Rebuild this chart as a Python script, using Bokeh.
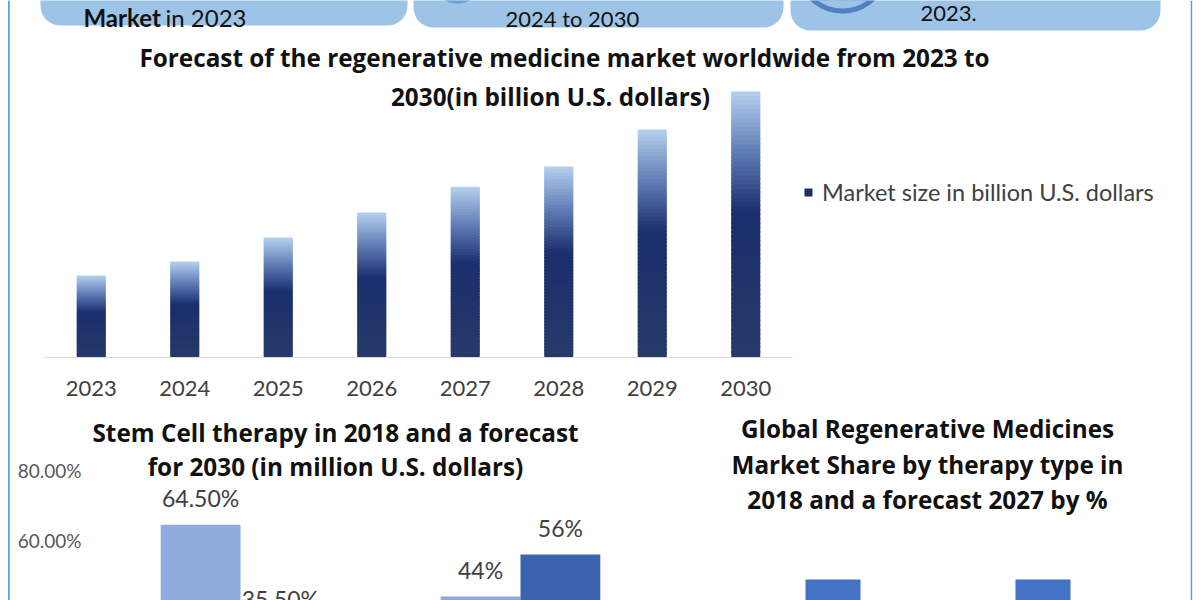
import math
from bokeh.plotting import figure
from bokeh.models import (ColumnDataSource, Range1d, FactorRange, Label, BoxAnnotation,
                          LabelSet, Legend, LegendItem, FixedTicker, PrintfTickFormatter,
                          PolyAnnotation)
from bokeh.layouts import column, row
from bokeh.transform import dodge
from bokeh.core.properties import value
from bokeh.embed import file_html
from bokeh.resources import INLINE

# ---------------- data ----------------
YEARS = ["2023", "2024", "2025", "2026", "2027", "2028", "2029", "2030"]
MARKET_SIZE = [29.0, 34.0, 42.5, 51.3, 60.5, 67.6, 80.7, 94.2]
SERIES_LABEL = "Market size in billion U.S. dollars"
TOP_TITLE = ["Forecast of the regenerative medicine market worldwide from 2023 to",
             "2030(in billion U.S. dollars)"]

STEM_GROUPS = ["2018", "2030"]
STEM_SERIES_1 = [64.5, 44.0]
STEM_SERIES_2 = [35.5, 56.0]
STEM_LABELS_1 = ["64.50%", "44%"]
STEM_LABELS_2 = ["35.50%", "56%"]
STEM_TICKS = [0, 20, 40, 60, 80]
STEM_TITLE = ["Stem Cell therapy in 2018 and a forecast",
              "for 2030 (in million U.S. dollars)"]

THERAPY_GROUPS = ["2018", "2027"]
THERAPY_SHARE = [100, 100]
THERAPY_TITLE = ["Global Regenerative Medicines",
                 "Market Share by therapy type in",
                 "2018 and a forecast 2027 by %"]

# ---------------- style ----------------
FONT = "Lato"
TFONT = "Open Sans"
TSIZE = "24.3px"
BOX_BLUE = "#9dc3e6"
FRAME_BLUE = "#5b9bd5"
TXT = "#111111"
GRAD_STOPS = [(0.0, (0x26, 0x3a, 0x6a)), (0.45, (0x1d, 0x30, 0x6c)),
              (0.55, (0x1b, 0x2e, 0x6e)), (0.78, (0x62, 0x80, 0xb8)),
              (1.0, (0xb6, 0xd0, 0xee))]


def grad(f):
    for (f0, c0), (f1, c1) in zip(GRAD_STOPS[:-1], GRAD_STOPS[1:]):
        if f0 <= f <= f1:
            t = (f - f0) / (f1 - f0)
            c = [round(a + (b - a) * t) for a, b in zip(c0, c1)]
            return "#%02x%02x%02x" % tuple(c)
    return "#%02x%02x%02x" % GRAD_STOPS[-1][1]


class Px:
    """place decorations by page pixel, converted into the figure's data coords"""

    def __init__(self, p, fl, fr, ft, fb, x0, x1, y0, y1):
        self.p = p
        self.fl, self.fr, self.ft, self.fb = fl, fr, ft, fb
        self.x0, self.x1, self.y0, self.y1 = x0, x1, y0, y1

    def x(self, cx):
        return self.x0 + (cx - self.fl) / (self.fr - self.fl) * (self.x1 - self.x0)

    def y(self, cy):
        return self.y0 + (self.fb - cy) / (self.fb - self.ft) * (self.y1 - self.y0)

    def lab(self, cx, cy, text, size, bold=False, align="center", baseline="middle",
            color=TXT, font=FONT):
        self.p.add_layout(Label(x=self.x(cx), y=self.y(cy), text=text,
                                text_font=font, text_font_size=size,
                                text_font_style="bold" if bold else "normal",
                                text_align=align, text_baseline=baseline, text_color=color))

    def box(self, l, r, t, b, color, radius=0):
        self.p.add_layout(BoxAnnotation(left=self.x(l), right=self.x(r), top=self.y(t),
                                        bottom=self.y(b), fill_color=color, fill_alpha=1,
                                        line_color=None, border_radius=radius,
                                        level="underlay"))

    def disc(self, cx, cy, rad, color):
        xs = [self.x(cx + rad * math.cos(a / 40 * math.pi)) for a in range(80)]
        ys = [self.y(cy + rad * math.sin(a / 40 * math.pi)) for a in range(80)]
        self.p.add_layout(PolyAnnotation(xs=xs, ys=ys, fill_color=color, fill_alpha=1,
                                         line_color=None, level="underlay"))


def base(**kw):
    p = figure(output_backend="svg", toolbar_location=None, title=None,
               min_border_top=0, min_border_bottom=0, min_border_left=0,
               min_border_right=0, **kw)
    p.xgrid.grid_line_color = None
    p.ygrid.grid_line_color = None
    p.outline_line_color = None
    return p


# ---------------- top chart (page x 10..1190, y 0..400) ----------------
BAND = 93.5          # px per year band
BAR0 = 44            # page x where the first band starts
TOP_FL, TOP_FR, TOP_FB = 10, 1190, 357
TOP_X = ((TOP_FL - BAR0) / BAND, (TOP_FR - BAR0) / BAND)
TOP_Y = (0, 126.4)
top = base(width=TOP_FR - TOP_FL, height=400, x_range=Range1d(*TOP_X),
           y_range=Range1d(*TOP_Y), y_axis_location=None)
top.min_border_bottom = 400 - TOP_FB
tp = Px(top, TOP_FL, TOP_FR, 0, TOP_FB, TOP_X[0], TOP_X[1], TOP_Y[0], TOP_Y[1])

# header boxes
tp.box(40, 407, -60, 25, BOX_BLUE, 20)
tp.box(413, 783, -60, 27, BOX_BLUE, 20)
tp.box(790, 1160, -60, 30, BOX_BLUE, 20)
tp.disc(457, -25, 28, "#6d9fd6")
tp.disc(842, -34, 47, "#4f82c0")
tp.disc(842, -34, 42, BOX_BLUE)
tp.lab(83, 17, "Market", "24px", bold=True, align="left", baseline="alphabetic")
tp.lab(165, 17, "in 2023", "24px", align="left", baseline="alphabetic")
tp.lab(505, 18, "2024 to 2030", "22px", align="left", baseline="alphabetic")
tp.lab(920, 12.5, "2023.", "22px", align="left", baseline="alphabetic")

tp.lab(564, 57, TOP_TITLE[0], TSIZE, bold=True, font=TFONT)
tp.lab(550, 96, TOP_TITLE[1], TSIZE, bold=True, font=TFONT)

centers = [i + 0.5 for i in range(len(YEARS))]
N = 60
sx, sb, st, sc = [], [], [], []
for c, v in zip(centers, MARKET_SIZE):
    for k in range(N):
        sx.append(c)
        sb.append(v * k / N)
        st.append(min(v, v * (k + 1.6) / N))   # small overlap hides seams
        sc.append(grad((k + 0.5) / N))
seg = ColumnDataSource(dict(x=sx, bottom=sb, top=st, color=sc))
bars = top.vbar(x="x", bottom="bottom", top="top", width=0.31, fill_color="color",
                line_color=None, source=seg)

xa = top.xaxis[0]
xa.ticker = FixedTicker(ticks=centers)
xa.major_label_overrides = {c: y for c, y in zip(centers, YEARS)}
xa.bounds = (0, len(YEARS))
xa.axis_line_color = "#d9d9d9"
xa.major_tick_line_color = None
xa.minor_tick_line_color = None
xa.major_label_text_font = FONT
xa.major_label_text_font_size = "22px"
xa.major_label_text_color = "#404040"
xa.major_label_standoff = 17

legend = Legend(items=[LegendItem(label=SERIES_LABEL, renderers=[bars], index=int(N * 0.45))],
                location=(803 - TOP_FL, 151), border_line_color=None,
                background_fill_alpha=0, glyph_width=10, glyph_height=10,
                label_standoff=9, padding=0, margin=0, spacing=0,
                label_text_font=FONT, label_text_font_size="23.5px",
                label_text_color="#404040")
top.add_layout(legend)

# ---------------- bottom-left chart (page x 10..672, y 400..600) ----------------
BL_FL, BL_FR = 88, 672
GROUP = 280
BL_PAD = (100 - BL_FL) / GROUP
BL_Y = ((750 - 600) / 3.5, (750 - 400) / 3.5)
bl = base(width=BL_FR - 10, height=200,
          x_range=FactorRange(factors=STEM_GROUPS, range_padding=BL_PAD,
                              range_padding_units="absolute"),
          y_range=Range1d(*BL_Y), x_axis_location=None)
bl.min_border_left = BL_FL - 10
lp = Px(bl, BL_FL, BL_FR, 400, 600, -BL_PAD, len(STEM_GROUPS) + BL_PAD, BL_Y[0], BL_Y[1])
src2 = ColumnDataSource(dict(g=STEM_GROUPS, s1=STEM_SERIES_1, s2=STEM_SERIES_2,
                             l1=STEM_LABELS_1, l2=STEM_LABELS_2))
OFF = 0.1425
bl.vbar(x=dodge("g", -OFF, range=bl.x_range), top="s1", bottom=0, width=0.285,
        fill_color="#8faadc", line_color=None, source=src2)
bl.vbar(x=dodge("g", OFF, range=bl.x_range), top="s2", bottom=0, width=0.285,
        fill_color="#3c64ae", line_color=None, source=src2)
for xo, yf, tf in [(-OFF, "s1", "l1"), (OFF, "s2", "l2")]:
    bl.add_layout(LabelSet(x=dodge("g", xo, range=bl.x_range), y=yf, text=tf, source=src2,
                           y_offset=27, text_align="center", text_baseline="middle",
                           text_font=value(FONT), text_font_size="23px",
                           text_color="#404040"))
ya = bl.yaxis[0]
ya.ticker = FixedTicker(ticks=STEM_TICKS)
ya.formatter = PrintfTickFormatter(format="%.2f%%")
ya.axis_line_color = None
ya.major_tick_line_color = None
ya.minor_tick_line_color = None
ya.major_tick_out = 0
ya.major_tick_in = 0
ya.major_label_text_font = FONT
ya.major_label_text_font_size = "19px"
ya.major_label_text_color = "#595959"
ya.major_label_standoff = 7
lp.lab(335, 432, STEM_TITLE[0], TSIZE, bold=True, font=TFONT)
lp.lab(335, 466, STEM_TITLE[1], TSIZE, bold=True, font=TFONT)

# ---------------- bottom-right chart (page x 672..1190, y 400..600) ----------------
BR_FL, BR_FR = 685, 1190
SLOT = 210
BR_PAD = (1190 - 1147.5) / SLOT
BR_Y = (89.5, 189.5)
br = base(width=BR_FR - 672, height=200,
          x_range=FactorRange(factors=THERAPY_GROUPS, range_padding=BR_PAD,
                              range_padding_units="absolute"),
          y_range=Range1d(*BR_Y), x_axis_location=None, y_axis_location=None)
br.min_border_left = BR_FL - 672
rp = Px(br, BR_FL, BR_FR, 400, 600, -BR_PAD, len(THERAPY_GROUPS) + BR_PAD, BR_Y[0], BR_Y[1])
br.vbar(x=THERAPY_GROUPS, top=THERAPY_SHARE, bottom=0, width=0.262,
        fill_color="#4472c4", line_color=None)
rp.lab(927, 428, THERAPY_TITLE[0], TSIZE, bold=True, font=TFONT)
rp.lab(927, 464, THERAPY_TITLE[1], TSIZE, bold=True, font=TFONT)
rp.lab(927, 499, THERAPY_TITLE[2], TSIZE, bold=True, font=TFONT)


# ---------------- outer frame strips ----------------
def strip(l, r):
    s = base(width=10, height=600, x_range=Range1d(0, 10), y_range=Range1d(0, 600),
             x_axis_location=None, y_axis_location=None)
    s.add_layout(BoxAnnotation(left=l, right=r, fill_color=FRAME_BLUE, fill_alpha=1,
                               line_color=None))
    return s


page = row(strip(7.5, 9.2), column(top, row(bl, br)), strip(0, 1.7))
open("out.html", "w").write(file_html(page, INLINE))
